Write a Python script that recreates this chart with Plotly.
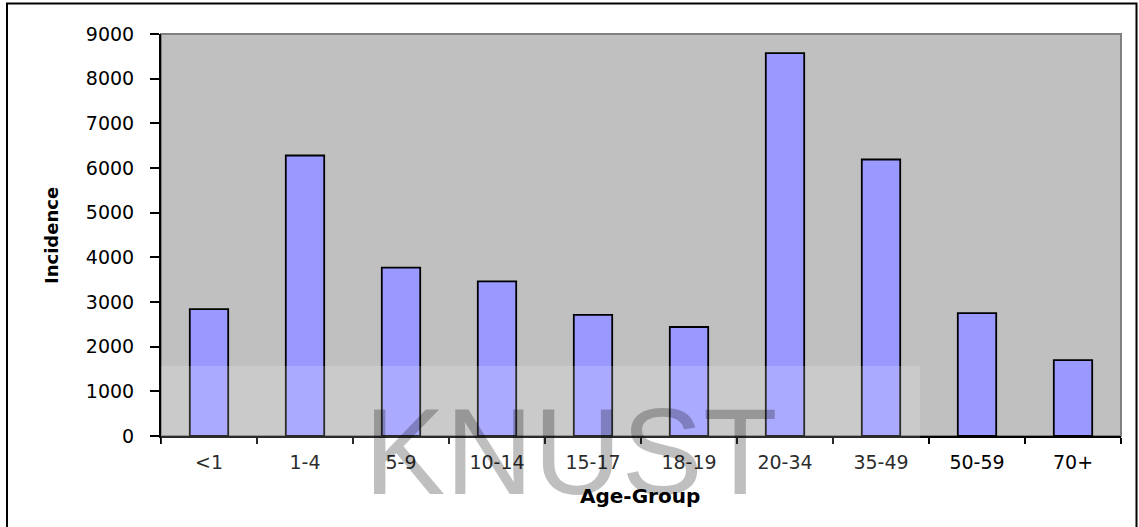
import plotly.graph_objects as go

# ---- data ----
age_groups = ["<1", "1-4", "5-9", "10-14", "15-17", "18-19", "20-34", "35-49", "50-59", "70+"]
incidence = [2840, 6280, 3770, 3460, 2710, 2440, 8570, 6190, 2750, 1700]
y_ticks = [0, 1000, 2000, 3000, 4000, 5000, 6000, 7000, 8000, 9000]

W, H = 1139, 527
ML, MR, MT, MB = 161, 18, 34, 91
PW, PH = W - ML - MR, H - MT - MB


def px_x(px):
    return (px - ML) / PW


def px_y(py):
    return (H - MB - py) / PH


FONT = "DejaVu Sans"

fig = go.Figure()
fig.add_trace(go.Bar(
    x=age_groups, y=incidence,
    marker=dict(color="#9999ff", line=dict(color="black", width=1.8)),
    width=0.4,
    showlegend=False,
))

fig.update_layout(
    width=W, height=H,
    margin=dict(l=ML, r=MR, t=MT, b=MB),
    paper_bgcolor="white",
    plot_bgcolor="#c0c0c0",
    font=dict(family=FONT, size=19, color="black"),
    xaxis=dict(
        type="category", range=[-0.5, 9.5],
        showline=True, linecolor="black", linewidth=2,
        ticks="outside", ticklen=6, tickwidth=1.5, tickcolor="black",
        tickson="boundaries", showgrid=False, zeroline=False,
        tickfont=dict(family=FONT, size=19, color="black"),
        ticklabelstandoff=8,
    ),
    yaxis=dict(
        range=[0, 9000], tickvals=y_ticks,
        showline=True, linecolor="black", linewidth=2,
        ticks="outside", ticklen=9, tickwidth=1.5, tickcolor="black",
        showgrid=False, zeroline=False,
        tickfont=dict(family=FONT, size=19, color="black"),
        ticklabelstandoff=12,
    ),
    shapes=[
        # plot frame (grey top/right edges)
        dict(type="rect", xref="paper", yref="paper", x0=0, x1=1, y0=0, y1=1,
             line=dict(color="#808080", width=2), layer="below"),
        # outer chart border (bottom cropped)
        dict(type="rect", xref="paper", yref="paper",
             x0=px_x(7), x1=px_x(1136.5), y0=px_y(700), y1=px_y(3.5),
             line=dict(color="black", width=2), fillcolor="rgba(0,0,0,0)", layer="above"),
        # watermark translucent panel
        dict(type="rect", xref="paper", yref="paper",
             x0=0, x1=px_x(920), y0=px_y(515), y1=px_y(366),
             line=dict(width=0), fillcolor="rgba(255,255,255,0.17)", layer="above"),
    ],
    annotations=[
        dict(text="<b>Incidence</b>", xref="paper", yref="paper",
             x=px_x(51), y=px_y(236), textangle=-90, showarrow=False,
             xanchor="center", yanchor="middle",
             font=dict(family=FONT, size=18, color="black")),
        dict(text="<b>Age-Group</b>", xref="paper", yref="paper",
             x=px_x(640), y=px_y(496), showarrow=False,
             xanchor="center", yanchor="middle",
             font=dict(family=FONT, size=20, color="black")),
        dict(text="KNUST", xref="paper", yref="paper",
             x=px_x(570), y=px_y(452), showarrow=False,
             xanchor="center", yanchor="middle",
             font=dict(family="Liberation Sans", size=122, color="rgba(0,0,0,0.25)")),
    ],
)

fig.write_html("out.html")
